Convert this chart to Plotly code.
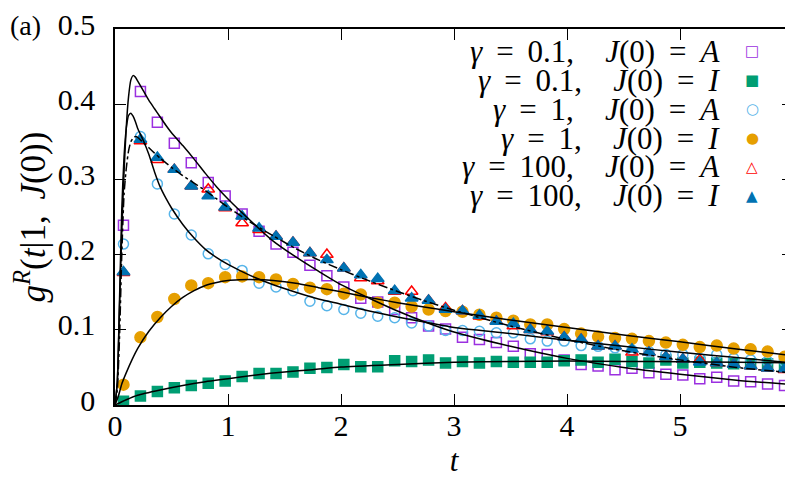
import plotly.graph_objects as go

# sample times of the simulated points
t_pts = [0.075, 0.225, 0.375, 0.525, 0.675, 0.825, 0.975, 1.125, 1.275, 1.425,
         1.575, 1.725, 1.875, 2.025, 2.175, 2.325, 2.475, 2.625, 2.775, 2.925,
         3.075, 3.225, 3.375, 3.525, 3.675, 3.825, 3.975, 4.125, 4.275, 4.425,
         4.575, 4.725, 4.875, 5.025, 5.175, 5.325, 5.475, 5.625, 5.775, 5.925]

g01_A = [0.239, 0.417, 0.376, 0.348, 0.322, 0.296, 0.278, 0.254, 0.231, 0.214,
         0.203, 0.186, 0.172, 0.157, 0.142, 0.137, 0.127, 0.116, 0.105, 0.101,
         0.090, 0.087, 0.083, 0.078, 0.068, 0.067, 0.060, 0.054, 0.052, 0.047,
         0.049, 0.043, 0.041, 0.040, 0.035, 0.037, 0.032, 0.031, 0.028, 0.026]
g01_I = [0.005, 0.012, 0.018, 0.023, 0.026, 0.029, 0.032, 0.038, 0.042, 0.042,
         0.044, 0.049, 0.050, 0.054, 0.051, 0.051, 0.059, 0.058, 0.060, 0.056,
         0.058, 0.056, 0.058, 0.057, 0.057, 0.057, 0.059, 0.060, 0.057, 0.061,
         0.058, 0.056, 0.060, 0.056, 0.057, 0.056, 0.055, 0.055, 0.055, 0.054]
g1_A = [0.214, 0.357, 0.294, 0.254, 0.226, 0.201, 0.187, 0.179, 0.162, 0.157,
        0.152, 0.138, 0.132, 0.127, 0.122, 0.118, 0.116, 0.109, 0.105, 0.099,
        0.099, 0.098, 0.096, 0.096, 0.088, 0.085, 0.085, 0.079, 0.078, 0.076,
        0.073, 0.071, 0.067, 0.067, 0.062, 0.067, 0.062, 0.060, 0.058, 0.058]
g1_I = [0.027, 0.090, 0.117, 0.141, 0.159, 0.162, 0.170, 0.171, 0.170, 0.167,
        0.161, 0.156, 0.154, 0.148, 0.147, 0.136, 0.136, 0.131, 0.127, 0.125,
        0.124, 0.120, 0.116, 0.112, 0.107, 0.107, 0.101, 0.095, 0.091, 0.089,
        0.088, 0.085, 0.083, 0.080, 0.077, 0.079, 0.075, 0.074, 0.071, 0.064]
g100_A = [0.176, 0.351, 0.326, 0.313, 0.291, 0.287, 0.262, 0.242, 0.233, 0.224,
          0.216, 0.202, 0.200, 0.182, 0.169, 0.165, 0.151, 0.151, 0.139, 0.129,
          0.125, 0.118, 0.111, 0.105, 0.100, 0.097, 0.090, 0.087, 0.078, 0.078,
          0.070, 0.070, 0.064, 0.061, 0.060, 0.056, 0.054, 0.052, 0.049, 0.047]
g100_I = [0.177, 0.353, 0.329, 0.313, 0.291, 0.278, 0.263, 0.251, 0.235, 0.224,
          0.216, 0.202, 0.193, 0.182, 0.173, 0.168, 0.152, 0.142, 0.139, 0.127,
          0.125, 0.119, 0.111, 0.108, 0.100, 0.098, 0.090, 0.087, 0.078, 0.078,
          0.074, 0.070, 0.064, 0.061, 0.057, 0.056, 0.054, 0.052, 0.049, 0.048]

# theory curves
t_a = [0, 0.02, 0.04, 0.06, 0.08, 0.10, 0.12, 0.14, 0.16, 0.18, 0.2, 0.25, 0.3,
       0.35, 0.4, 0.45, 0.5, 0.6, 0.7, 0.8, 0.9, 1.0, 1.2, 1.4, 1.6, 1.8, 2.0,
       2.25, 2.5, 2.75, 3.0, 3.5, 4.0, 4.5, 5.0, 5.5, 6.0]
th01_A = [0, 0.03, 0.13, 0.23, 0.31, 0.37, 0.41, 0.432, 0.438, 0.436, 0.431,
          0.418, 0.405, 0.394, 0.383, 0.372, 0.362, 0.345, 0.327, 0.308, 0.29,
          0.274, 0.245, 0.218, 0.197, 0.178, 0.16, 0.142, 0.125, 0.11, 0.097,
          0.078, 0.062, 0.05, 0.041, 0.033, 0.027]
th1_A = [0, 0.03, 0.14, 0.26, 0.33, 0.368, 0.385, 0.388, 0.384, 0.377, 0.368,
         0.352, 0.333, 0.31, 0.29, 0.275, 0.262, 0.24, 0.222, 0.207, 0.196,
         0.187, 0.172, 0.16, 0.15, 0.141, 0.134, 0.125, 0.117, 0.11, 0.103,
         0.095, 0.086, 0.078, 0.07, 0.063, 0.056]
th100 = [0, 0.02, 0.09, 0.2, 0.28, 0.315, 0.338, 0.35, 0.355, 0.357, 0.356,
         0.349, 0.342, 0.335, 0.328, 0.322, 0.316, 0.305, 0.295, 0.285, 0.274,
         0.263, 0.243, 0.225, 0.208, 0.193, 0.18, 0.165, 0.151, 0.138, 0.126,
         0.105, 0.087, 0.072, 0.06, 0.05, 0.0426]

t_b = [0, 0.03, 0.06, 0.1, 0.15, 0.2, 0.3, 0.4, 0.5, 0.6, 0.7, 0.8, 0.9, 1.0,
       1.1, 1.2, 1.4, 1.6, 1.8, 2.0, 2.25, 2.5, 2.75, 3.0, 3.5, 4.0, 4.5, 5.0,
       5.5, 6.0]
th1_I = [0, 0.012, 0.028, 0.043, 0.06, 0.075, 0.098, 0.116, 0.131, 0.143,
         0.152, 0.159, 0.163, 0.1655, 0.1665, 0.1668, 0.1655, 0.162, 0.156,
         0.1505, 0.143, 0.136, 0.13, 0.124, 0.113, 0.103, 0.093, 0.084, 0.0745,
         0.0656]

t_c = [0, 0.1, 0.2, 0.4, 0.6, 0.8, 1.0, 1.25, 1.5, 1.75, 2.0, 2.5, 3.0, 3.5,
       4.0, 4.5, 5.0, 5.5, 6.0]
th01_I = [0, 0.007, 0.013, 0.02, 0.026, 0.031, 0.035, 0.04, 0.044, 0.047,
          0.0505, 0.054, 0.057, 0.058, 0.0585, 0.058, 0.0575, 0.0568, 0.056]

x_ticks = [0, 1, 2, 3, 4, 5, 6]
y_ticks = [0, 0.1, 0.2, 0.3, 0.4, 0.5]
y_ticktext = ["0", "0.1", "0.2", "0.3", "0.4", "0.5"]

FONT = "Liberation Serif"
SP = "\u00a0\u2009"  # math-like spacing around '='
Q = "\u2003"         # quad after the comma

fig = go.Figure()

markers = [
    (g01_A, "square-open", "#9b30e0", 10),
    (g01_I, "square", "#009e73", 10),
    (g1_A, "circle-open", "#56b4e9", 10),
    (g1_I, "circle", "#e69f00", 11),
    (g100_A, "triangle-up-open", "#ff0000", 11),
    (g100_I, "triangle-up", "#0072b2", 11),
]
for vals, sym, col, sz in markers:
    fig.add_trace(go.Scatter(x=t_pts, y=vals, mode="markers",
                             marker=dict(symbol=sym, color=col, size=sz,
                                         line=dict(color=col, width=1.5)),
                             showlegend=False, cliponaxis=False))

for tt, vals, dash in [(t_a, th01_A, "solid"), (t_a, th1_A, "solid"),
                       (t_b, th1_I, "solid"), (t_c, th01_I, "solid"),
                       (t_a, th100, "dashdot")]:
    fig.add_trace(go.Scatter(x=tt, y=vals, mode="lines",
                             line=dict(color="black", width=1.5, dash=dash,
                                       shape="spline", smoothing=0.6),
                             showlegend=False))

# legend drawn as text, symbols at the right
gammas = ["0.1", "0.1", "1", "1", "100", "100"]
states = ["A", "I", "A", "I", "A", "I"]
leg_sym = ["□", "■", "○", "●", "△", "▲"]
for i in range(6):
    txt = (f"<i>γ</i>{SP}={SP}{gammas[i]},{Q}<i>J</i>(0){SP}={SP}"
           f"<i>{states[i]}</i>")
    yy = 0.941 - i * 0.077
    fig.add_annotation(xref="paper", yref="paper", x=0.895, y=yy,
                       xanchor="right", yanchor="middle", text=txt,
                       showarrow=False,
                       font=dict(family=FONT, size=31, color="black"))
    fig.add_annotation(xref="paper", yref="paper", x=0.94, y=yy,
                       xanchor="center", yanchor="middle", text=leg_sym[i],
                       showarrow=False,
                       font=dict(family="DejaVu Sans", size=15,
                                 color=markers[i][2]))

fig.add_annotation(xref="paper", yref="paper", x=-0.158, y=1.008,
                   xanchor="left", yanchor="middle", text="(a)",
                   showarrow=False,
                   font=dict(family=FONT, size=28, color="black"))

# last x tick label sits on the page edge; keep it inside the page
fig.add_annotation(xref="paper", yref="paper", x=1.0, y=-0.055,
                   xanchor="center", xshift=-1, yanchor="middle",
                   text=str(x_ticks[-1]), showarrow=False,
                   font=dict(family=FONT, size=30, color="black"))

axis_common = dict(showline=True, linecolor="black", linewidth=1.5,
                   mirror="ticks", ticks="inside", ticklen=11, tickwidth=1.2,
                   tickcolor="black", showgrid=False, zeroline=False,
                   automargin=False, ticklabeloverflow="allow",
                   tickfont=dict(family=FONT, size=30, color="black"))

fig.update_xaxes(range=[0, 6], tickvals=x_ticks,
                 ticktext=[str(v) for v in x_ticks[:-1]] + [""],
                 ticklabelstandoff=-7,
                 title=dict(text="<i>t</i>", standoff=9,
                            font=dict(family=FONT, size=31, color="black")),
                 **axis_common)
fig.update_yaxes(range=[0, 0.5], tickvals=y_ticks, ticktext=y_ticktext,
                 ticklabelstandoff=12, ticklabelshift=-5,
                 title=dict(text=f"<i>g</i><sup><i>R</i></sup>(<i>t</i>|1,{SP}<i>J</i>(0))",
                            standoff=4,
                            font=dict(family=FONT, size=35, color="black")),
                 **axis_common)

fig.update_layout(width=793, height=479,
                  margin=dict(l=107, r=8, t=21, b=82),
                  plot_bgcolor="white", paper_bgcolor="white")

fig.write_html("out.html")
